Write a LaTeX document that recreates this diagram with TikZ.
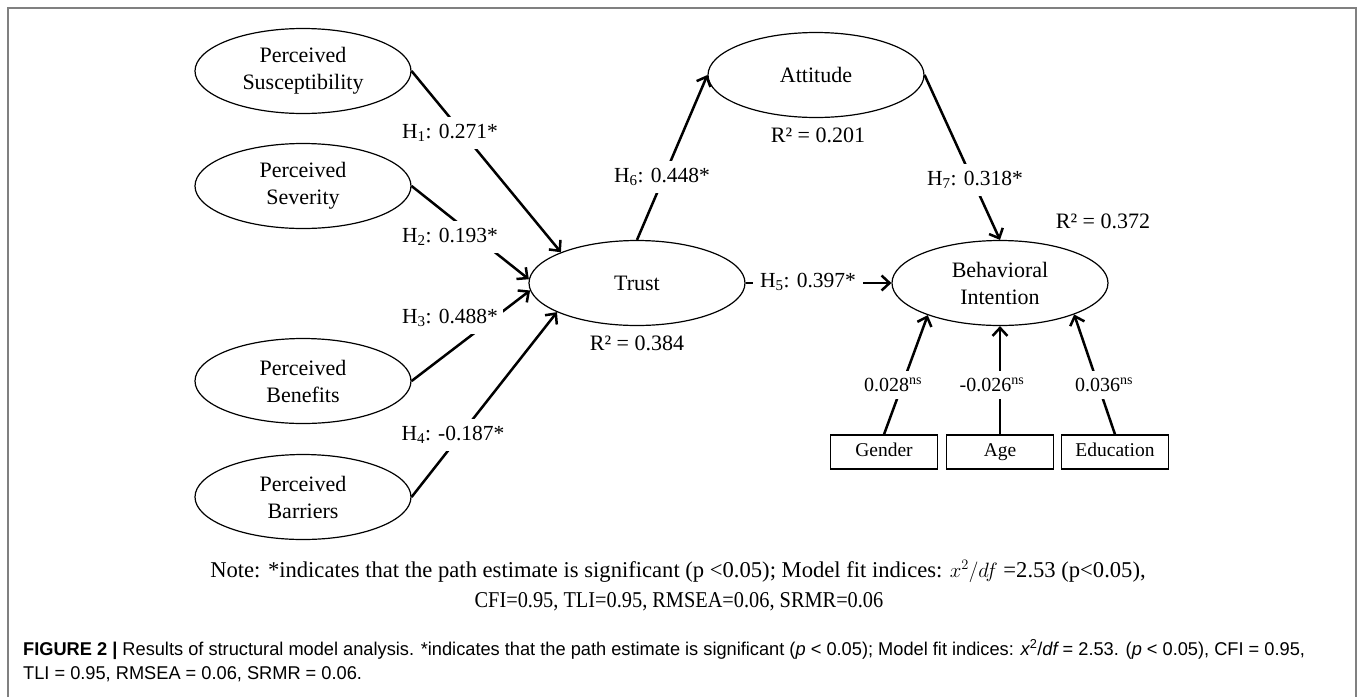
\documentclass[tikz,border=0pt]{standalone}
\usepackage{fontspec}
\setmainfont{Liberation Serif}
\newfontfamily\capfont[FakeStretch=0.985]{Liberation Sans}
\newfontfamily\narrowserif[FakeStretch=0.9]{Liberation Serif}
\usetikzlibrary{arrows.meta,shapes.geometric}
\begin{document}
\begin{tikzpicture}[x=1pt,y=-1pt,
  lat/.style={draw, line width=1.2pt, ellipse, minimum width=216pt, minimum height=85pt, inner sep=0pt, align=center, font=\fontsize{22}{27}\selectfont},
  obs/.style={draw, line width=1.2pt, rectangle, minimum width=107pt, minimum height=34pt, inner sep=0pt, text height=13.5pt, text depth=4pt, font=\fontsize{19.5}{23}\selectfont},
  pathline/.style={line width=2.5pt, -{Straight Barb[length=8pt,width=15pt,line width=2.5pt]}},
  lbl/.style={fill=white, inner xsep=5pt, inner ysep=7pt, font=\fontsize{21.5}{25}\selectfont},
  cov/.style={fill=white, inner xsep=5pt, inner ysep=7pt, font=\fontsize{20}{24}\selectfont},
  rsq/.style={font=\fontsize{22}{26}\selectfont},
  frame/.style={draw=black!50, line width=1.2pt},
  notetext/.style={anchor=base, inner sep=0pt, font=\fontsize{22.6}{26}\selectfont},
  capt/.style={anchor=base west, inner sep=0pt, font=\capfont\fontsize{18.5}{22}\selectfont},
]
\useasboundingbox (0,0) rectangle (1360,697);
\draw[frame] (8,697) -- (8,8) -- (1356,8) -- (1356,697);

\node[lat] (sus) at (303,71) {Perceived\\Susceptibility};
\node[lat] (sev) at (303,186) {Perceived\\Severity};
\node[lat] (ben) at (303,381) {Perceived\\Benefits};
\node[lat] (bar) at (303,497) {Perceived\\Barriers};
\node[lat] (tru) at (637,283) {Trust};
\node[lat] (att) at (816,75) {Attitude};
\node[lat] (bi) at (1000,283) {Behavioral\\Intention};
\node[obs] (gen) at (884,452) {Gender};
\node[obs] (age) at (1000,452) {Age};
\node[obs] (edu) at (1115,452) {Education};

\draw[pathline] (sus.east) -- (tru.158);
\draw[pathline] (sev.east) -- (tru.178);
\draw[pathline] (ben.east) -- (tru.184);
\draw[pathline] (bar.east) -- (tru.200);
\draw[pathline] (tru.north) -- (att.west);
\draw[pathline] (att.east) -- (bi.north);
\draw[pathline] (tru.east) -- (bi.west);
\draw[pathline] (gen.north) -- (bi.204);
\draw[pathline] (age.north) -- (bi.south);
\draw[pathline] (edu.north) -- (bi.337);

\node[lbl] (l1) at (450,133) {H\textsubscript{1}: 0.271*};
\node[lbl] (l2) at (450,237) {H\textsubscript{2}: 0.193*};
\node[lbl] (l3) at (450,318) {H\textsubscript{3}: 0.488*};
\node[lbl] (l4) at (453,435) {H\textsubscript{4}: -0.187*};
\node[lbl] (l6) at (662,177) {H\textsubscript{6}: 0.448*};
\node[lbl] (l7) at (975,180) {H\textsubscript{7}: 0.318*};
\node[lbl, inner xsep=7pt] (l5) at (808,282) {H\textsubscript{5}: 0.397*};
\node[cov] (c1) at (893,385) {0.028\textsuperscript{ns}};
\node[cov] (c2) at (992,385) {-0.026\textsuperscript{ns}};
\node[cov] (c3) at (1104,385) {0.036\textsuperscript{ns}};

\node[rsq] (r1) at (637,343) {R² = 0.384};
\node[rsq] (r2) at (818,135) {R² = 0.201};
\node[rsq] (r3) at (1103,221) {R² = 0.372};

\node[notetext] (note1) at (678,577) {Note: *indicates that the path estimate is significant (p <0.05); Model fit indices: $x^2/df$ =2.53 (p<0.05),};
\node[notetext] (note2) at (679,607) {\narrowserif CFI=0.95, TLI=0.95, RMSEA=0.06, SRMR=0.06};

\node[capt] (cap1) at (23,655) {\textbf{FIGURE 2 |} Results of structural model analysis. *indicates that the path estimate is significant ({\itshape p} < 0.05); Model fit indices: {\itshape x}\textsuperscript{2}/{\itshape df} = 2.53. ({\itshape p} < 0.05), CFI = 0.95,};
\node[capt] (cap2) at (23,679) {TLI = 0.95, RMSEA = 0.06, SRMR = 0.06.};
\end{tikzpicture}
\end{document}
